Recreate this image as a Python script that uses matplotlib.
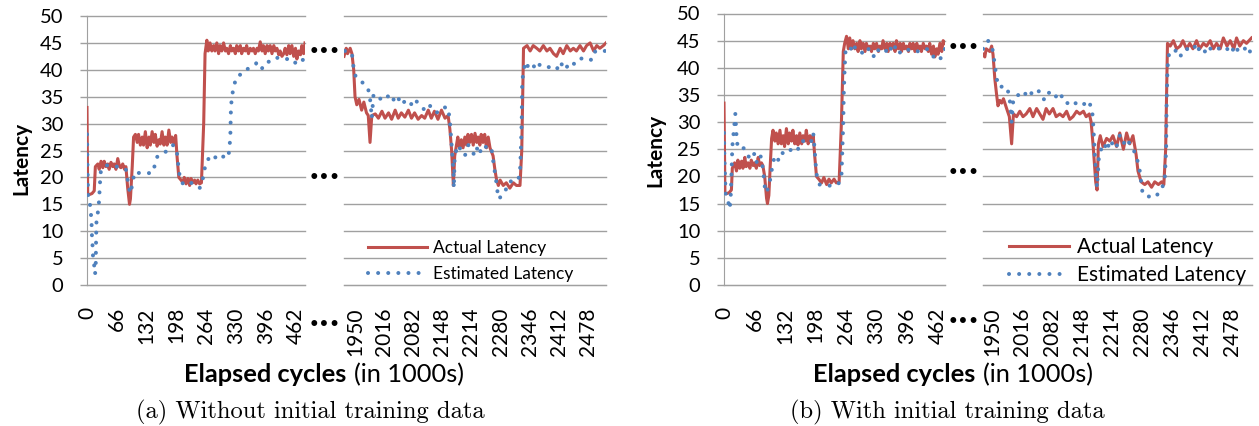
import matplotlib
matplotlib.use("Agg")
import matplotlib.pyplot as plt

plt.rcParams['font.family'] = ['Lato', 'DejaVu Sans']

# ---- data (a): without initial training data ----
a_left_x_act = [0, 1.5, 5, 11, 16, 18.5, 24, 27, 31, 35, 38, 42, 46, 49, 53, 57, 60, 64, 68, 72, 75, 79, 83, 86, 90,
                94, 96, 100, 103, 107, 111, 114, 118, 122, 125, 129, 133, 137, 140, 144, 148, 151, 155, 159, 162,
                166, 170, 173, 177, 181, 185, 188, 192, 196, 199, 203, 208, 212, 215, 219, 223, 227, 230, 234, 238,
                241, 245, 249, 253, 258, 261, 265, 268, 272, 276, 280, 283, 287, 291, 294, 298, 302, 306, 309, 313,
                317, 320, 324, 328, 331, 335, 339, 342, 346, 350, 353, 357, 361, 365, 368, 372, 376, 379, 383, 387,
                390, 394, 398, 401, 405, 409, 413, 416, 420, 424, 427, 431, 435, 438, 442, 446, 449, 453, 457, 461,
                464, 468, 472, 475, 479, 482]
a_left_y_act = [33, 17, 16.8, 17, 17.5, 22, 22.5, 21.5, 23, 21.8, 23, 22, 22.5, 21.5, 22.8, 22, 22.5, 21.5, 23.5, 22,
                21.8, 22.5, 21.5, 22, 18, 15, 16, 22, 27.5, 28, 26.5, 28, 26, 27.5, 26, 28.5, 25.5, 27.5, 26, 28.5,
                26.5, 28, 25.8, 27, 26.2, 28.5, 26, 27.5, 26, 28.8, 26.5, 27.5, 26.3, 27.8, 24, 20, 19.5, 19, 20,
                18.8, 19.8, 18.5, 19.8, 19, 19.5, 18.8, 19.5, 18.8, 19, 30, 43, 45.5, 43.5, 45, 43.5, 44.5, 43.5,
                45, 43, 44.5, 43.5, 45, 43.5, 44, 43, 44.5, 43.5, 44, 43, 44.5, 43.5, 44.5, 43, 44, 43.5, 44.5, 43,
                44, 43.5, 44, 43, 44, 43.5, 45.2, 43.5, 44.5, 43, 44.5, 43.5, 44.5, 43, 44.5, 43.5, 44, 42.8, 43.5,
                42.5, 43, 44, 42.8, 44.5, 43, 44.5, 42.5, 44, 42, 43.5, 42.8, 44.5, 43, 45]
a_left_x_est = [0, 0.7, 1.5, 2.2, 3.7, 6.6, 8.9, 10.3, 11, 12.5, 13.3, 15.5, 17.7, 19.2, 20, 21, 25, 27, 28, 29.5,
                31, 38, 46, 57, 68, 79, 86, 91, 95, 100, 105, 116, 131, 144, 149, 156, 168, 179, 190, 197, 200, 202,
                205, 210, 219, 230, 241, 249, 254, 258, 262, 269, 278, 286, 294, 304, 312, 315, 317, 318, 320, 324,
                328, 334, 345, 353, 363, 374, 385, 396, 411, 422, 433, 444, 455, 463, 470, 482]
a_left_y_est = [28, 24, 20, 17, 16, 15, 13, 11, 9, 7, 5.3, 4, 2, 3, 8, 12, 14, 16, 18, 20, 21.5, 22, 22.3, 22, 22,
                21.8, 21.5, 19, 17, 18.5, 21, 20.8, 20.8, 20.8, 22, 24, 24.5, 25, 26, 25.5, 24, 22, 20.2, 19, 18.5,
                19, 18.5, 18, 19, 20.5, 22.5, 23.5, 23, 24, 23.5, 24, 23.7, 25.3, 28, 32, 35, 36.5, 38, 39, 39.2, 40,
                40.7, 41.2, 40, 41.5, 41.5, 42.3, 42, 42, 42, 41, 41.6, 42]

a_right_x_act = [1925, 1930, 1933, 1939, 1943, 1947, 1950, 1954, 1959, 1965, 1970, 1976, 1980, 1984, 1988, 1996,
                 2003, 2011, 2018, 2026, 2033, 2041, 2048, 2055, 2063, 2071, 2078, 2085, 2093, 2101, 2108, 2116,
                 2123, 2130, 2138, 2146, 2154, 2161, 2165, 2169, 2173, 2176, 2180, 2183, 2187, 2191, 2195, 2199,
                 2203, 2206, 2210, 2214, 2218, 2222, 2226, 2229, 2233, 2236, 2240, 2244, 2248, 2252, 2256, 2263,
                 2267, 2271, 2275, 2279, 2286, 2293, 2301, 2309, 2316, 2324, 2328, 2332, 2340, 2347, 2354, 2362,
                 2369, 2377, 2385, 2392, 2400, 2407, 2415, 2422, 2430, 2438, 2445, 2452, 2460, 2468, 2475, 2483,
                 2491, 2498, 2505, 2513, 2519]
a_right_y_act = [42.5, 44, 43, 44, 43, 40, 35, 33.5, 34.5, 32.5, 34, 32, 31.5, 26.5, 31.5, 31.8, 31, 32.3, 31, 32,
                 30.8, 32.5, 31, 32, 31.2, 32.5, 31, 32, 30.8, 31.5, 31, 32.5, 31, 32.3, 30.8, 32.5, 31, 31.5, 29,
                 25, 18.5, 24, 26, 27.5, 25.5, 27, 25.5, 27.5, 26, 28, 26.5, 28, 26, 28.2, 26.5, 27.5, 26, 28, 26.5,
                 28, 25.5, 27.5, 25.5, 24, 21.5, 19.5, 18.5, 19.5, 18.5, 19, 18, 19, 18.5, 18.5, 25, 44, 44.5, 43.5,
                 44.5, 44, 43.5, 44.5, 43.5, 44, 43, 42.5, 44, 43, 44.5, 43.5, 44, 43.5, 44.5, 43.5, 44.5, 45, 43.5,
                 44.5, 44, 44.5, 45]
a_right_x_est = [1927, 1935, 1943, 1948, 1953, 1961, 1969, 1978, 1983, 1986, 1988, 1992, 2000, 2010, 2018, 2026,
                 2033, 2045, 2055, 2067, 2079, 2085, 2097, 2108, 2118, 2128, 2135, 2146, 2161, 2165, 2169, 2173,
                 2174, 2176, 2183, 2191, 2199, 2207, 2214, 2222, 2229, 2236, 2244, 2252, 2260, 2265, 2269, 2275,
                 2282, 2289, 2297, 2309, 2320, 2324, 2326, 2328, 2329, 2336, 2343, 2350, 2362, 2369, 2381, 2392,
                 2407, 2415, 2426, 2438, 2449, 2460, 2471, 2487, 2495, 2505, 2517]
a_right_y_est = [43.5, 43.5, 43, 39.5, 38.5, 38, 37.5, 36.8, 35.5, 33, 31, 35.5, 35, 34.5, 35.3, 35, 34, 35.3, 33.5,
                 34.5, 33.5, 34.5, 33.5, 32.5, 33.5, 32.5, 32, 33, 33, 30.5, 26, 21.5, 18, 24, 26, 25, 24, 26, 25, 24,
                 26, 24.5, 25.5, 26, 25, 22, 20, 16, 16.5, 17, 19, 19.5, 19.5, 21, 25, 31, 38, 41.5, 40.5, 41.2, 40,
                 41, 40.5, 40.5, 40, 41.5, 40, 41.5, 41, 42, 42.3, 41.8, 43.5, 43.5, 43.5]

# ---- data (b): with initial training data ----
b_left_x_act = [0, 2, 5, 11, 16, 18, 23, 27, 30, 34, 38, 41, 45, 48, 52, 56, 59, 63, 66, 70, 74, 77, 81, 84, 88, 92,
                94, 97, 100, 103, 106, 110, 113, 117, 121, 124, 128, 131, 135, 139, 142, 146, 149, 153, 157, 160,
                164, 168, 171, 175, 178, 182, 186, 189, 193, 196, 200, 205, 211, 216, 222, 227, 232, 238, 243, 249,
                254, 258, 261, 265, 269, 272, 276, 279, 283, 287, 290, 294, 297, 301, 305, 308, 312, 316, 319, 323,
                326, 330, 334, 337, 341, 344, 348, 352, 355, 359, 362, 366, 370, 373, 377, 381, 384, 388, 391, 395,
                399, 402, 406, 409, 413, 417, 420, 424, 427, 431, 435, 438, 442, 445, 449, 453, 456, 460, 463, 467,
                471, 474, 478]
b_left_y_act = [33.5, 17, 16.8, 17, 17.5, 21.5, 22.5, 21, 23, 21.5, 22.8, 21.5, 23.5, 21.8, 22.5, 21.5, 23, 22, 22.5,
                21.5, 23.5, 22, 22.5, 22, 20, 16, 15, 16.5, 22, 27, 28.5, 26.5, 28, 26, 28.5, 26, 27.5, 25.5, 28.8,
                26, 28, 26.5, 28.5, 26, 27.5, 25.8, 28, 26, 27.5, 26.5, 28.5, 26, 27.5, 26.5, 27.5, 24, 20, 19.5,
                18.8, 19.8, 18.5, 19.5, 18.8, 19.5, 18.8, 19, 30, 43, 44.5, 45.8, 43.5, 45.5, 43.5, 45, 43.5, 44.5,
                43, 45, 43.5, 44.5, 43, 44.5, 43.5, 44, 43, 44.5, 43.5, 44.5, 43, 44, 43.5, 45, 43.5, 44.5, 43, 44.5,
                43.5, 44.5, 43, 45, 43.5, 44.5, 43, 44.5, 43.5, 44, 43, 44.5, 43.5, 44.5, 43, 44.5, 43.5, 44, 43,
                44.5, 43.5, 44, 43, 44.5, 42.5, 44, 42, 43.5, 42.5, 44.5, 43, 45, 44.5]
b_left_x_est = [0, 0.7, 2.2, 3.6, 8.7, 12.3, 14.4, 16.6, 18, 20.2, 22.4, 24.5, 28, 32.5, 37.5, 42.6, 48.4, 55.6,
                61.4, 66.4, 70, 75.8, 80.9, 86, 89.5, 94, 99, 102.5, 106, 110, 117, 124, 131, 139, 146, 153, 160,
                167.5, 175, 182, 189, 193, 196, 198.5, 201, 207, 214, 225, 236, 247, 254, 256, 258, 259, 261, 263,
                272, 279, 287, 294, 305, 312, 323, 330, 337, 348, 355, 366, 377, 388, 399, 409, 420, 427, 438, 449,
                456, 467, 478]
b_left_y_est = [28, 24, 20, 16.5, 15.5, 14, 16, 21.5, 25.5, 27.5, 29.5, 31.5, 26, 26, 25, 25.2, 24, 23.5, 24.5, 24,
                22.5, 24, 23.5, 20, 17, 17.5, 19, 20.8, 22.5, 23.8, 23, 24.5, 24, 24.5, 25, 25.5, 25, 26.5, 26.5, 27,
                26.5, 28, 25, 22, 20, 18.5, 18.3, 18.3, 18.3, 18.5, 20, 25, 30, 35, 40, 43.3, 43, 44.5, 43, 43, 42.5,
                43.5, 42, 43.5, 43, 43.5, 42.5, 44.5, 42.5, 43.5, 43.3, 43.5, 43, 43, 43.5, 42.8, 41.5, 41.5, 43.5]

b_right_x_act = [1930, 1934, 1937, 1945, 1949, 1952, 1956, 1960, 1963, 1967, 1971, 1975, 1982, 1988, 1993, 1997,
                 2004, 2011, 2018, 2025, 2033, 2040, 2048, 2055, 2062, 2069, 2076, 2084, 2091, 2099, 2106, 2114,
                 2121, 2128, 2136, 2143, 2151, 2157, 2164, 2168, 2173, 2178, 2181, 2184, 2188, 2194, 2202, 2209,
                 2216, 2224, 2231, 2239, 2246, 2253, 2260, 2267, 2271, 2278, 2286, 2293, 2301, 2308, 2316, 2323,
                 2328, 2332, 2334, 2336, 2342, 2349, 2356, 2364, 2370, 2378, 2385, 2392, 2400, 2407, 2415, 2422,
                 2430, 2437, 2444, 2452, 2459, 2467, 2474, 2482, 2488, 2495, 2503, 2510, 2521]
b_right_y_act = [42.5, 42, 43.5, 43, 44, 42.5, 38, 35, 33, 34, 33.5, 34.3, 32.5, 31, 26, 31.5, 31, 32, 31, 31.5,
                 32.5, 31, 32.5, 31.5, 30.5, 32.5, 31.5, 32.5, 31, 31.5, 31, 32, 30.5, 31, 32, 31.5, 32, 31, 31.5,
                 30, 25, 19, 17.5, 26, 27.5, 25.5, 27, 26.5, 27.5, 25.5, 28, 25, 28, 26, 27.5, 24, 21, 19, 18.5, 19,
                 18, 19, 18.5, 19, 18.5, 25, 35, 44.5, 44, 45, 43.5, 44, 45, 43.5, 44.5, 43.5, 45, 43.5, 44.5, 44,
                 45, 43.5, 44.5, 43.5, 45.5, 44, 45, 43.5, 45.5, 44, 45, 44.5, 45.5]
b_right_x_est = [1930, 1936, 1941, 1949, 1952, 1956, 1960, 1966, 1978, 1986, 1989, 1993, 1997, 2008, 2018, 2029,
                 2040, 2049, 2058, 2065, 2076, 2088, 2099, 2110, 2117, 2128, 2139, 2151, 2161, 2170, 2173, 2176,
                 2179, 2181, 2185, 2190, 2196, 2202, 2209, 2216, 2224, 2231, 2239, 2246, 2253, 2260, 2267, 2275,
                 2281, 2288, 2296, 2303, 2312, 2323, 2330, 2333, 2334, 2336, 2340, 2349, 2356, 2364, 2370, 2378,
                 2385, 2392, 2400, 2407, 2415, 2422, 2430, 2437, 2448, 2459, 2470, 2477, 2484, 2495, 2507, 2514, 2521]
b_right_y_est = [43.5, 44, 45, 44, 43, 40.5, 38, 36.4, 36.7, 35.5, 34, 30, 34.5, 35, 34.5, 36, 35, 35.8, 35.5, 34,
                 35.5, 34.5, 35.5, 33.5, 33.5, 34, 33, 33.2, 34, 32.5, 29, 24, 20, 18, 23.5, 25, 24.5, 26.5, 25, 26.5,
                 25.5, 27.5, 26, 27, 26, 25, 24, 21, 17, 16.3, 16.3, 16, 16.5, 17.5, 19.5, 25, 33, 40, 43, 43, 43.2,
                 42, 43.2, 43.5, 43.2, 43.2, 44.5, 43, 43.5, 42.5, 43.5, 44, 43.5, 44, 43.3, 44, 42.5, 44, 43.5, 44, 42]

left_ticks = [0, 66, 132, 198, 264, 330, 396, 462]
right_ticks = [1950, 2016, 2082, 2148, 2214, 2280, 2346, 2412, 2478]
labels = ["Actual Latency", "Estimated Latency"]

RED = "#C0504D"
BLUE = "#4F81BD"
GRID = "#A0A0A0"
W, H = 1259, 426

fig = plt.figure(figsize=(W / 100, H / 100), dpi=100)


def add_axes_px(x0, x1, ytop, ybot):
    return fig.add_axes([x0 / W, 1 - ybot / H, (x1 - x0) / W, (ybot - ytop) / H])


def draw_panel(ax, xa, ya, xe, ye, xlim, ticks, show_y):
    red, = ax.plot(xa, ya, color=RED, lw=2.2, solid_joinstyle='round', zorder=3)
    blue, = ax.plot(xe, ye, color=BLUE, lw=2.9, linestyle=(0, (0.01, 2.5)),
                    dash_capstyle='round', zorder=4)
    ax.set_xlim(*xlim)
    ax.set_ylim(0, 50)
    ax.set_yticks(range(0, 51, 5))
    ax.set_xticks(ticks)
    ax.yaxis.grid(True, color=GRID, lw=1.0)
    ax.set_axisbelow(True)
    for gl in ax.get_ygridlines():
        gl.set_clip_on(False)
    ax.spines['top'].set_visible(False)
    ax.spines['right'].set_visible(False)
    ax.spines['bottom'].set_color(GRID)
    ax.tick_params(axis='x', length=0, pad=16, labelsize=15, labelrotation=90)
    if show_y:
        ax.spines['left'].set_color(GRID)
        ax.tick_params(axis='y', length=5, width=1, color=GRID, pad=12, labelsize=14.5)
    else:
        ax.spines['left'].set_visible(False)
        ax.tick_params(axis='y', length=0, labelleft=False)
    return red, blue


# (a)
ax1 = add_axes_px(87, 305, 16, 285)
draw_panel(ax1, a_left_x_act, a_left_y_act, a_left_x_est, a_left_y_est, (0, 482), left_ticks, True)
ax2 = add_axes_px(344, 606, 16, 285)
h = draw_panel(ax2, a_right_x_act, a_right_y_act, a_right_x_est, a_right_y_est, (1925, 2519), right_ticks, False)
ax2.legend(h, labels, loc='center left', bbox_to_anchor=(368 / W, 1 - 261 / H), bbox_transform=fig.transFigure,
           frameon=False, borderpad=0, borderaxespad=0, fontsize=12.5, handlelength=3.4, handletextpad=0.35,
           labelspacing=0.62)

# (b)
ax3 = add_axes_px(724, 945, 13.5, 285)
draw_panel(ax3, b_left_x_act, b_left_y_act, b_left_x_est, b_left_y_est, (0, 478), left_ticks, True)
ax4 = add_axes_px(983, 1252, 13.5, 285)
h = draw_panel(ax4, b_right_x_act, b_right_y_act, b_right_x_est, b_right_y_est, (1930, 2522), right_ticks, False)
ax4.legend(h, labels, loc='center left', bbox_to_anchor=(1009 / W, 1 - 261 / H), bbox_transform=fig.transFigure,
           frameon=False, borderpad=0, borderaxespad=0, fontsize=15, handlelength=2.9, handletextpad=0.38,
           labelspacing=0.38)

# axis titles, captions, break marks
for xc, yc in [(21, 158), (655, 150)]:
    fig.text(xc / W, 1 - yc / H, "Latency", rotation=90, ha='center', va='center', fontsize=15, fontweight='bold')

for xs, cap, xcap in [(346, "(a) Without initial training data", 310),
                      (975, "(b) With initial training data", 947)]:
    fig.text(xs / W, 1 - 382 / H, "Elapsed cycles", ha='right', va='baseline', fontsize=18.3, fontweight='bold')
    fig.text((xs + 8) / W, 1 - 382 / H, "(in 1000s)", ha='left', va='baseline', fontsize=18.3)
    fig.text(xcap / W, 1 - 418 / H, cap, ha='center', va='baseline', fontsize=17.7, family='cmr10')

for xc, ys in [(325, (52, 178, 325)), (964, (48, 173, 322))]:
    for yc in ys:
        fig.text(xc / W, 1 - yc / H, "\u2022\u2022\u2022", ha='center', va='center', fontsize=12,
                 fontweight='bold', family='DejaVu Sans')

fig.savefig("out.png", dpi=100)
